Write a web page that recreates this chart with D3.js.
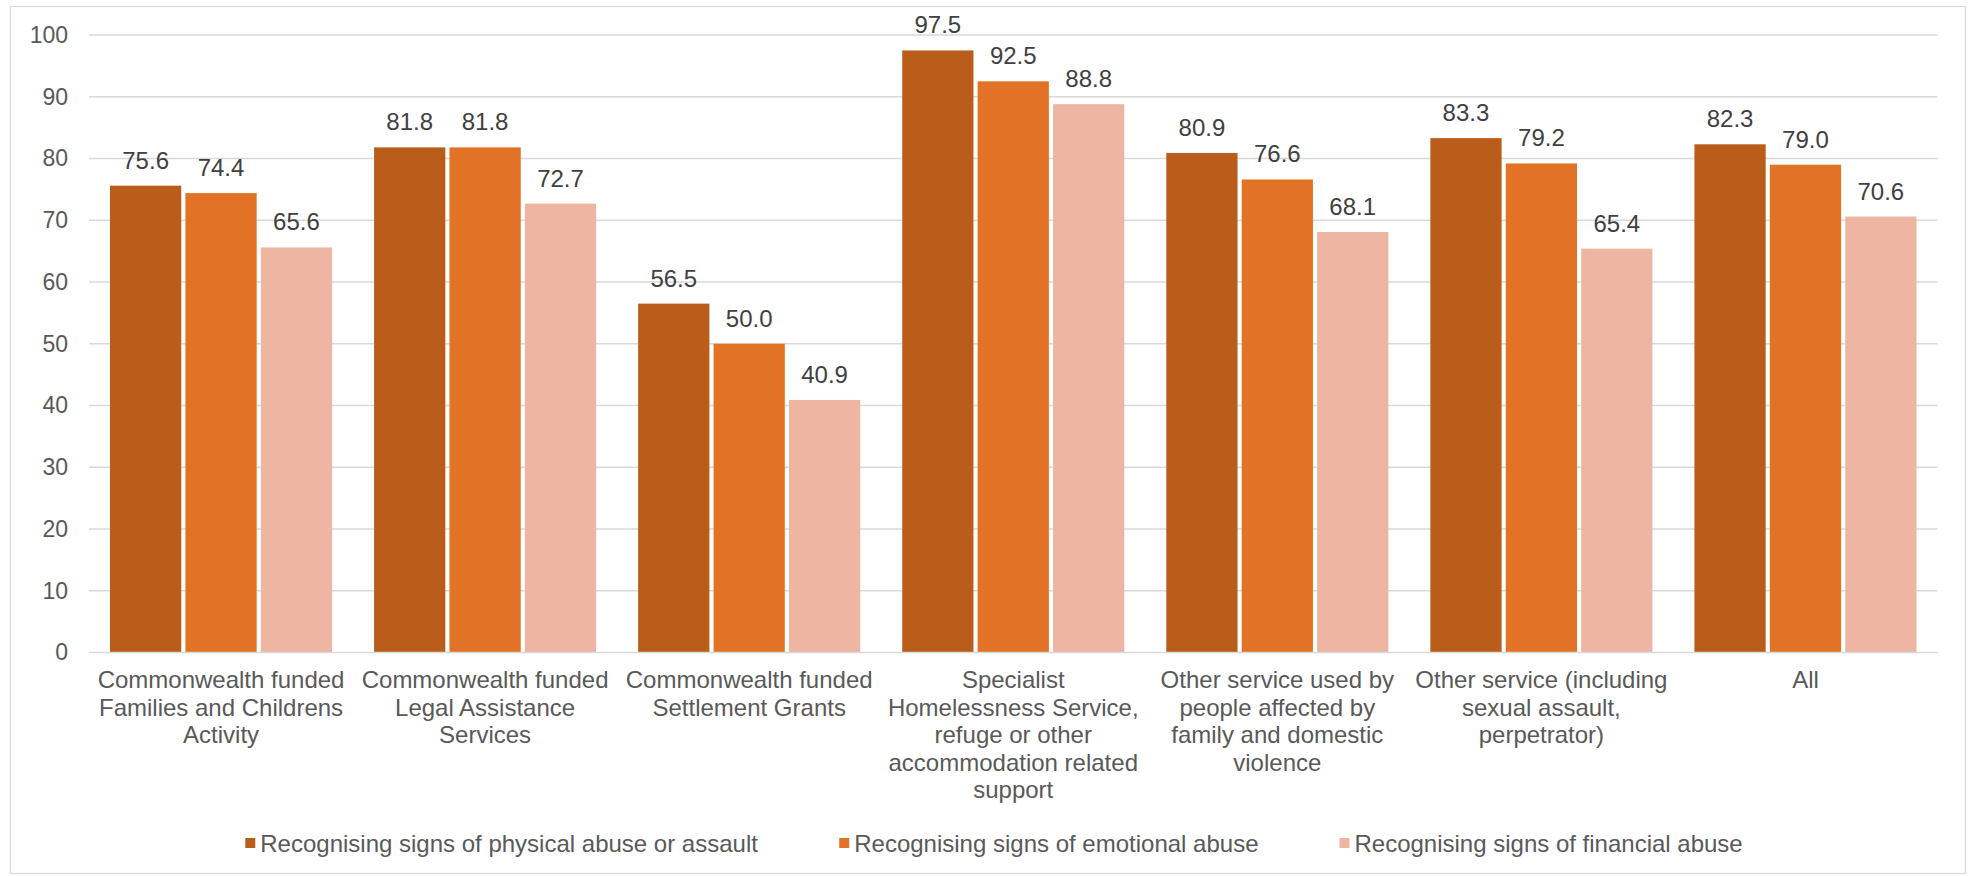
<!DOCTYPE html>
<html>
<head>
<meta charset="utf-8">
<script src="https://cdn.jsdelivr.net/npm/d3@7/dist/d3.min.js"></script>
<style>
  html, body { margin: 0; padding: 0; background: #fff; }
  svg { display: block; }
  text { font-family: "Liberation Sans", Arial, sans-serif; }
</style>
</head>
<body>
<svg id="chart" width="1972" height="876"></svg>
<script>
// ---- Data ----
const categories = [
  "Commonwealth funded Families and Childrens Activity",
  "Commonwealth funded Legal Assistance Services",
  "Commonwealth funded Settlement Grants",
  "Specialist Homelessness Service, refuge or other accommodation related support",
  "Other service used by people affected by family and domestic violence",
  "Other service (including sexual assault, perpetrator)",
  "All"
];
const categoryLines = [
  ["Commonwealth funded", "Families and Childrens", "Activity"],
  ["Commonwealth funded", "Legal Assistance", "Services"],
  ["Commonwealth funded", "Settlement Grants"],
  ["Specialist", "Homelessness Service,", "refuge or other", "accommodation related", "support"],
  ["Other service used by", "people affected by", "family and domestic", "violence"],
  ["Other service (including", "sexual assault,", "perpetrator)"],
  ["All"]
];
const seriesNames = [
  "Recognising signs of physical abuse or assault",
  "Recognising signs of emotional abuse",
  "Recognising signs of financial abuse"
];
const physical  = [75.6, 81.8, 56.5, 97.5, 80.9, 83.3, 82.3];
const emotional = [74.4, 81.8, 50.0, 92.5, 76.6, 79.2, 79.0];
const financial = [65.6, 72.7, 40.9, 88.8, 68.1, 65.4, 70.6];
const yTicks = [0, 10, 20, 30, 40, 50, 60, 70, 80, 90, 100];
const colors = ["#BA5D1B", "#E27326", "#EEB5A3"];

// ---- Layout ----
const svg = d3.select("#chart");
const W = 1972, H = 876;
const plot = { left: 89, right: 1937.5, top: 35, bottom: 652.5 };

svg.append("rect")
  .attr("x", 10.5).attr("y", 6.5)
  .attr("width", 1955).attr("height", 867)
  .attr("fill", "#fff").attr("stroke", "#D9D9D9").attr("stroke-width", 1.2);

const x0 = d3.scaleBand().domain(categories).range([plot.left, plot.right]).paddingInner(0).paddingOuter(0);
const groupPad = 21 / x0.bandwidth();
const x1 = d3.scaleBand().domain(seriesNames)
  .range([x0.bandwidth() * groupPad, x0.bandwidth() * (1 - groupPad)])
  .paddingInner(0.055).paddingOuter(0);
const y = d3.scaleLinear().domain([0, 100]).range([plot.bottom, plot.top]);

// gridlines
svg.append("g").selectAll("line").data(yTicks.filter(t => t > 0)).join("line")
  .attr("x1", plot.left).attr("x2", plot.right)
  .attr("y1", d => y(d)).attr("y2", d => y(d))
  .attr("stroke", "#D9D9D9").attr("stroke-width", 1.3);

// y axis labels
const yAxis = d3.axisLeft(y).tickValues(yTicks).tickSize(0).tickPadding(0);
const yg = svg.append("g").attr("transform", `translate(${plot.left - 21},0)`).call(yAxis);
yg.select(".domain").remove();
yg.selectAll("text")
  .attr("font-size", 23).attr("fill", "#595959")
  .attr("font-family", "Liberation Sans, Arial, sans-serif");

// bars
const seriesData = [physical, emotional, financial];
const groups = svg.append("g").selectAll("g").data(categories).join("g")
  .attr("transform", d => `translate(${x0(d)},0)`);

groups.selectAll("rect")
  .data((d, i) => seriesNames.map((s, j) => ({ s, j, v: seriesData[j][i] })))
  .join("rect")
  .attr("x", d => x1(d.s))
  .attr("width", x1.bandwidth())
  .attr("y", d => y(d.v))
  .attr("height", d => y(0) - y(d.v))
  .attr("fill", d => colors[d.j]);

groups.selectAll("text.val")
  .data((d, i) => seriesNames.map((s, j) => ({ s, j, v: seriesData[j][i] })))
  .join("text")
  .attr("class", "val")
  .attr("x", d => x1(d.s) + x1.bandwidth() / 2)
  .attr("y", d => y(d.v) - 17)
  .attr("text-anchor", "middle")
  .attr("font-size", 24)
  .attr("fill", "#404040")
  .text(d => d3.format(".1f")(d.v));

// baseline axis
svg.append("line")
  .attr("x1", plot.left).attr("x2", plot.right)
  .attr("y1", y(0)).attr("y2", y(0))
  .attr("stroke", "#D9D9D9").attr("stroke-width", 1.5);

// category labels
const xAxis = d3.axisBottom(x0).tickSize(0).tickFormat(() => "");
const xg = svg.append("g").attr("transform", `translate(0,${plot.bottom})`).call(xAxis);
xg.select(".domain").remove();
xg.selectAll(".tick").each(function(d, i) {
  const t = d3.select(this).append("text")
    .attr("text-anchor", "middle")
    .attr("font-size", 24)
    .attr("fill", "#595959")
    .attr("font-family", "Liberation Sans, Arial, sans-serif");
  categoryLines[i].forEach((ln, k) => {
    t.append("tspan").attr("x", 0).attr("y", 35.5 + k * 27.6).text(ln);
  });
});

// legend
const legend = svg.append("g");
const items = legend.selectAll("g").data(seriesNames).join("g");
items.append("rect").attr("width", 10).attr("height", 10).attr("y", -5)
  .attr("fill", (d, i) => colors[i]);
items.append("text").attr("x", 15).attr("y", 8.5)
  .attr("font-size", 24).attr("fill", "#595959").text(d => d);
const widths = [];
items.each(function() { widths.push(this.getBBox().width); });
const gap = 81;
const total = d3.sum(widths) + gap * (widths.length - 1);
let cx = 994 - total / 2;
items.attr("transform", (d, i) => {
  const tx = cx; cx += widths[i] + gap;
  return `translate(${tx},843)`;
});
</script>
</body>
</html>
